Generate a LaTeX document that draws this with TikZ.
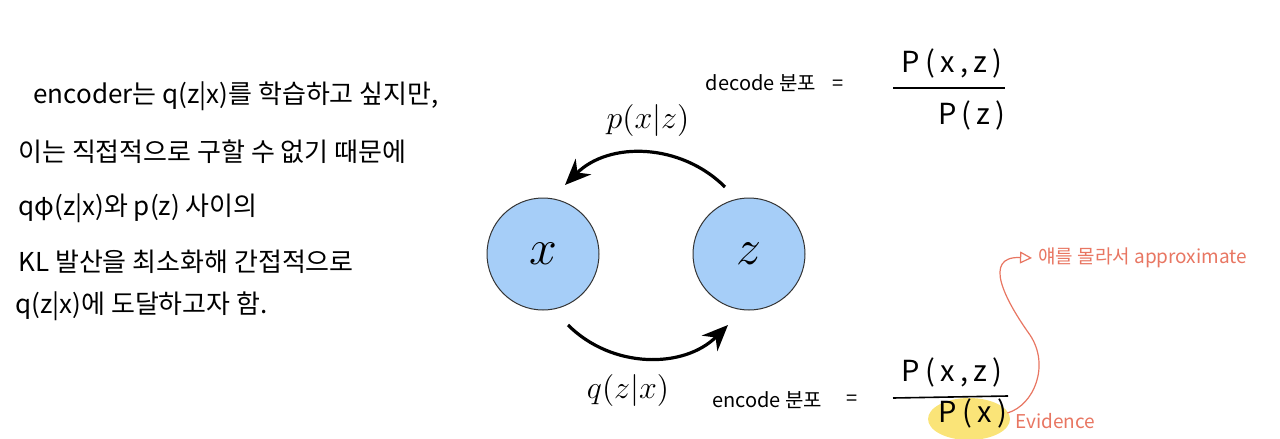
\documentclass[tikz,border=0pt]{standalone}
\usepackage{fix-cm}
\usepackage{fontspec}
\newfontfamily\hand{Noto Sans CJK KR}
\usetikzlibrary{arrows.meta}
\definecolor{nodeblue}{RGB}{166,206,248}
\definecolor{pen}{RGB}{232,118,98}
\definecolor{marker}{RGB}{250,228,120}
\begin{document}
\begin{tikzpicture}[x=0.5pt,y=-0.5pt,>={Stealth[length=13pt,width=11pt]},
	var/.style={circle,draw=black!80,line width=0.5pt,fill=nodeblue,minimum size=56pt,inner sep=0pt,font=\fontsize{25}{28}\selectfont},
	flow/.style={->,line width=1.6pt},
	cond/.style={font=\fontsize{16}{18}\selectfont},
	note/.style={anchor=west,inner sep=0pt,font=\hand\fontsize{13}{15}\selectfont},
	eq/.style={inner sep=0pt,font=\hand\fontsize{10}{12}\selectfont},
	frac/.style={inner sep=0pt,font=\hand\fontsize{14.5}{16}\selectfont\addfontfeature{LetterSpace=18}},
	redpen/.style={text=pen,inner sep=0pt,font=\hand\fontsize{9.5}{11}\selectfont}]
		\useasboundingbox (0,0) rectangle (1280,439);
		% notes on the left
		\node[note] (l1) at (33,96) {encoder는 q(z|x)를 학습하고 싶지만,};
		\node[note] (l2) at (18,152) {이는 직접적으로 구할 수 없기 때문에};
		\node[note] (l3) at (18,208) {qφ(z|x)와 p(z) 사이의};
		\node[note] (l4) at (18,262) {KL 발산을 최소화해 간접적으로};
		\node[note] (l5) at (15,306) {q(z|x)에 도달하고자 함.};
		% x <-> z
		\node[var] (x) at (543,254) {$x$};
		\node[var] (z) at (749,254) {$z$};
		\draw[flow] ([shift={(-24,-67)}]z.center) .. controls +(-44,-44) and +(44,-44) .. ([shift={(22,-69)}]x.center);
		\draw[flow] ([shift={(25,71)}]x.center) .. controls +(44,44) and +(-44,44) .. ([shift={(-21,71)}]z.center);
		\node[cond] (pxz) at (648,120) {$p(x|z)$};
		\node[cond] (qzx) at (628,390) {$q(z|x)$};
		% decode
		\node[eq] (dec) at (761,83) {decode 분포};
		\node[eq] (deceq) at (838,85) {=};
		\node[frac] (decnum) at (952,63) {P(x,z)};
		\draw[line width=0.8pt] (893,88) -- (1005,88);
		\node[frac] (decden) at (972,115) {P(z)};
		% encode
		\fill[marker] (969,419) ellipse [x radius=41, y radius=21];
		\node[eq] (enc) at (767,400) {encode 분포};
		\node[eq] (enceq) at (852,400) {=};
		\node[frac] (encnum) at (952,372) {P(x,z)};
		\draw[line width=0.8pt] (893,398) -- (1008,396);
		\node[frac] (encden) at (973,413) {P(x)};
		\node[redpen] (evid) at (1055,421) {Evidence};
		\node[redpen,anchor=west] (approx) at (1038,258) {얘를 몰라서 approximate};
		\draw[pen,line width=0.6pt,-{Triangle[open,length=6pt,width=6pt]}] (encden.east) .. controls +(27,-8) and +(20,30) .. (1030,335) .. controls +(-25,-35) and +(-50,-2) .. ([xshift=-3pt]approx.west);
\end{tikzpicture}
\end{document}
